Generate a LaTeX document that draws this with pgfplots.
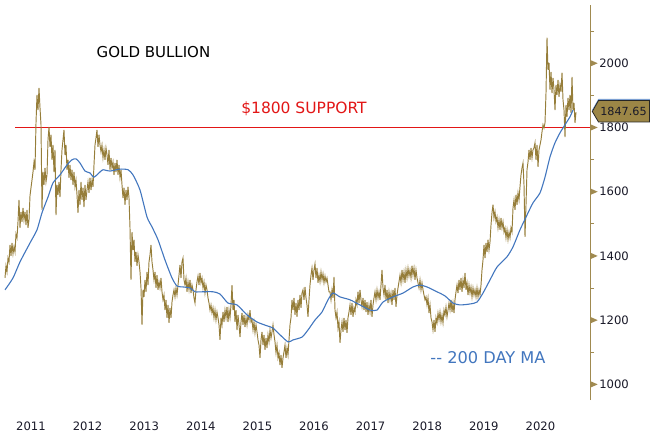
\documentclass[border=0pt]{standalone}
\usepackage{pgfplots}
\pgfplotsset{compat=1.18}
\usepackage{fontspec}
\setmainfont{DejaVu Sans}
\definecolor{gold}{RGB}{150,126,58}
\definecolor{axgold}{RGB}{160,138,80}
\definecolor{mablue}{RGB}{66,118,190}
\definecolor{supred}{RGB}{226,22,22}
\definecolor{ticktext}{RGB}{25,25,40}
\definecolor{boxfill}{RGB}{156,134,70}
\begin{document}
\begin{tikzpicture}[x=1pt,y=1pt]
\useasboundingbox (0,0) rectangle (650,439);
\begin{axis}[
  at={(0pt,39pt)}, anchor=south west,
  width=590pt, height=395pt, scale only axis,
  xmin=0, xmax=590, ymin=951, ymax=2181,
  axis y line*=right, axis x line*=bottom,
  x axis line style={draw=none},
  y axis line style={axgold, line width=1pt},
  ytick pos=right, yticklabel pos=right, xtick pos=bottom,
  tick align=outside,
  major tick length=0pt, minor tick length=4pt,
  minor y tick style={axgold, line width=0.8pt},
  major x tick style={draw=none},
  ytick={1000,1200,1400,1600,1800,2000},
  minor ytick={1100,1300,1500,1700,1900,2100},
  /pgf/number format/1000 sep={},
  /pgf/number format/assume math mode=true,
  yticklabel={\tikz[baseline=0pt]\fill[axgold] (0,0.8pt)--(0,7.4pt)--(7.5pt,4.1pt)--cycle;\hspace{1.6pt}\pgfmathprintnumber{\tick}},
  yticklabel style={font=\fontsize{11.6}{13}\selectfont, text=ticktext, inner sep=0pt, anchor=west},
  xtick={31,87.6,144.2,200.8,257.4,314,370.6,427.2,483.8,540.4},
  xticklabels={2011,2012,2013,2014,2015,2016,2017,2018,2019,2020},
  xticklabel style={font=\fontsize{11.6}{13}\selectfont, text=ticktext, anchor=base, yshift=-30pt},
  clip=true,
]
% $1800 support line
\addplot[supred, line width=0.9pt] coordinates {(15,1800) (590,1800)};
% gold price
\addplot[gold, line width=0.95pt] coordinates {
(5,1331)(6,1369)(7,1350)(8,1393)(9,1381)(10,1434)(11,1400)(12,1440)(13,1406)(14,1428)(15,1412)(16,1468)(17,1456)(18,1506)(19,1574)(20,1487)
(21,1537)(22,1506)(23,1549)(24,1512)(25,1537)(26,1496)(27,1543)(28,1487)(29,1512)(30,1587)(31,1612)(32,1636)(33,1661)(34,1692)(35,1668)
(36,1814)(37,1901)(38,1854)(39,1923)(40,1861)(41,1808)(42,1543)(43,1661)(44,1621)(45,1674)(46,1630)(47,1652)(48,1761)(49,1801)(50,1739)
(51,1777)(52,1699)(53,1745)(54,1661)(55,1730)(56,1527)(57,1621)(58,1590)(59,1630)(60,1583)(61,1668)(62,1730)(63,1761)(64,1792)(65,1714)
(66,1745)(67,1668)(68,1699)(69,1643)(70,1683)(71,1636)(72,1668)(73,1621)(74,1661)(75,1615)(76,1636)(77,1590)(78,1534)(79,1605)(80,1559)
(81,1630)(82,1574)(83,1612)(84,1552)(85,1621)(86,1574)(87,1605)(88,1630)(89,1596)(90,1643)(91,1605)(92,1636)(93,1615)(94,1683)(95,1745)
(96,1767)(97,1792)(98,1739)(99,1777)(100,1745)(101,1724)(102,1745)(103,1705)(104,1730)(105,1699)(106,1736)(107,1714)(108,1683)(109,1730)(110,1668)
(111,1705)(112,1674)(113,1692)(114,1652)(115,1689)(116,1661)(117,1699)(118,1652)(119,1683)(120,1643)(121,1668)(122,1621)(123,1580)(124,1612)(125,1559)
(126,1605)(127,1574)(128,1615)(129,1580)(130,1487)(131,1325)(132,1474)(133,1418)(134,1450)(135,1381)(136,1412)(137,1369)(138,1403)(139,1381)(140,1350)
(141,1300)(142,1185)(143,1294)(144,1272)(145,1325)(146,1288)(147,1350)(148,1309)(149,1381)(150,1403)(151,1434)(152,1381)(153,1356)(154,1325)(155,1350)
(156,1300)(157,1340)(158,1294)(159,1319)(160,1300)(161,1331)(162,1288)(163,1263)(164,1278)(165,1231)(166,1263)(167,1207)(168,1247)(169,1191)(170,1238)
(171,1207)(172,1256)(173,1278)(174,1294)(175,1272)(176,1300)(177,1278)(178,1309)(179,1340)(180,1372)(181,1331)(182,1381)(183,1393)(184,1325)(185,1309)
(186,1331)(187,1288)(188,1319)(189,1294)(190,1325)(191,1284)(192,1309)(193,1294)(194,1269)(195,1253)(196,1294)(197,1319)(198,1337)(199,1309)(200,1347)
(201,1316)(202,1331)(203,1300)(204,1319)(205,1284)(206,1309)(207,1294)(208,1269)(209,1253)(210,1231)(211,1247)(212,1222)(213,1238)(214,1207)(215,1231)
(216,1200)(217,1225)(218,1207)(219,1185)(220,1138)(221,1207)(222,1185)(223,1225)(224,1194)(225,1231)(226,1207)(227,1241)(228,1194)(229,1231)(230,1207)
(231,1247)(232,1309)(233,1231)(234,1263)(235,1194)(236,1231)(237,1169)(238,1216)(239,1185)(240,1147)(241,1194)(242,1222)(243,1185)(244,1216)(245,1178)
(246,1207)(247,1185)(248,1216)(249,1200)(250,1231)(251,1194)(252,1200)(253,1169)(254,1194)(255,1160)(256,1185)(257,1163)(258,1138)(259,1122)(260,1082)
(261,1138)(262,1163)(263,1122)(264,1154)(265,1107)(266,1144)(267,1113)(268,1154)(269,1132)(270,1169)(271,1144)(272,1163)(273,1185)(274,1154)(275,1132)
(276,1098)(277,1122)(278,1082)(279,1098)(280,1060)(281,1091)(282,1051)(283,1082)(284,1101)(285,1122)(286,1082)(287,1113)(288,1091)(289,1138)(290,1185)
(291,1207)(292,1263)(293,1231)(294,1269)(295,1216)(296,1253)(297,1210)(298,1263)(299,1231)(300,1278)(301,1238)(302,1284)(303,1294)(304,1263)(305,1303)
(306,1269)(307,1247)(308,1210)(309,1263)(310,1309)(311,1340)(312,1362)(313,1325)(314,1356)(315,1375)(316,1331)(317,1362)(318,1316)(319,1340)(320,1319)
(321,1350)(322,1325)(323,1344)(324,1316)(325,1337)(326,1319)(327,1331)(328,1309)(329,1288)(330,1288)(331,1263)(332,1294)(333,1269)(334,1334)(335,1231)
(336,1207)(337,1225)(338,1175)(339,1194)(340,1129)(341,1169)(342,1194)(343,1163)(344,1207)(345,1169)(346,1200)(347,1160)(348,1207)(349,1225)(350,1247)
(351,1216)(352,1253)(353,1210)(354,1238)(355,1225)(356,1263)(357,1247)(358,1288)(359,1253)(360,1294)(361,1263)(362,1241)(363,1269)(364,1231)(365,1263)
(366,1225)(367,1256)(368,1216)(369,1247)(370,1225)(371,1263)(372,1210)(373,1247)(374,1269)(375,1288)(376,1263)(377,1294)(378,1269)(379,1288)(380,1263)
(381,1309)(382,1356)(383,1300)(384,1278)(385,1309)(386,1263)(387,1294)(388,1253)(389,1288)(390,1263)(391,1284)(392,1247)(393,1294)(394,1263)(395,1300)
(396,1241)(397,1278)(398,1300)(399,1319)(400,1340)(401,1316)(402,1356)(403,1325)(404,1350)(405,1316)(406,1356)(407,1331)(408,1362)(409,1337)(410,1356)
(411,1331)(412,1369)(413,1340)(414,1362)(415,1325)(416,1356)(417,1331)(418,1316)(419,1300)(420,1325)(421,1294)(422,1316)(423,1294)(424,1278)(425,1263)
(426,1272)(427,1247)(428,1269)(429,1222)(430,1247)(431,1207)(432,1194)(433,1169)(434,1200)(435,1163)(436,1207)(437,1191)(438,1222)(439,1200)(440,1225)
(441,1194)(442,1216)(443,1191)(444,1231)(445,1216)(446,1241)(447,1210)(448,1231)(449,1253)(450,1231)(451,1263)(452,1225)(453,1253)(454,1222)(455,1263)
(456,1288)(457,1309)(458,1284)(459,1325)(460,1294)(461,1331)(462,1288)(463,1325)(464,1300)(465,1347)(466,1294)(467,1316)(468,1278)(469,1309)(470,1284)
(471,1303)(472,1272)(473,1300)(474,1278)(475,1294)(476,1272)(477,1300)(478,1272)(479,1294)(480,1278)(481,1309)(482,1356)(483,1387)(484,1434)(485,1393)
(486,1440)(487,1412)(488,1450)(489,1418)(490,1443)(491,1496)(492,1534)(493,1559)(494,1518)(495,1537)(496,1506)(497,1521)(498,1487)(499,1512)(500,1481)
(501,1518)(502,1487)(503,1506)(504,1474)(505,1487)(506,1456)(507,1481)(508,1450)(509,1474)(510,1456)(511,1487)(512,1474)(513,1549)(514,1574)(515,1543)
(516,1590)(517,1559)(518,1596)(519,1574)(520,1615)(521,1652)(522,1674)(523,1689)(524,1621)(525,1459)(526,1559)(527,1668)(528,1692)(529,1730)(530,1699)
(531,1736)(532,1705)(533,1730)(534,1736)(535,1752)(536,1699)(537,1745)(538,1677)(539,1730)(540,1745)(541,1761)(542,1786)(543,1808)(544,1798)(545,1814)
(546,1907)(547,2079)(548,1979)(549,2001)(550,1917)(551,1973)(552,1907)(553,1954)(554,1917)(555,1854)(556,1932)(557,1901)(558,1948)(559,1895)(560,1932)
(561,1911)(562,1970)(563,1886)(564,1854)(565,1770)(566,1870)(567,1833)(568,1892)(569,1854)(570,1901)(571,1845)(572,1957)(573,1854)(574,1876)(575,1814)
(576,1847.65)
};
% 200-day moving average
\addplot[mablue, line width=1.1pt, smooth, tension=0.4] coordinates {
(5,1294)(13,1331)(20,1381)(30,1440)(37,1481)(42,1534)(48,1583)(53,1627)(60,1652)(67,1683)(72,1699)(76,1702)(80,1689)(85,1664)(90,1658)
(94,1645)(100,1661)(103,1668)(110,1664)(120,1670)(128,1668)(133,1652)(140,1605)(147,1521)(152,1490)(158,1450)(165,1387)(172,1331)(177,1306)
(183,1303)(190,1300)(195,1288)(203,1288)(213,1288)(220,1281)(228,1253)(237,1247)(247,1216)(257,1194)(267,1182)(273,1175)(280,1154)(288,1132)
(293,1138)(302,1147)(308,1169)(315,1200)(322,1225)(328,1263)(333,1284)(340,1272)(350,1263)(360,1247)(370,1231)(377,1231)(383,1256)(393,1272)
(403,1284)(413,1303)(420,1309)(427,1303)(437,1288)(445,1275)(453,1253)(460,1247)(470,1250)(477,1256)(483,1284)(490,1325)(497,1365)(507,1397)
(513,1428)(520,1481)(527,1527)(533,1565)(540,1596)(545,1645)(550,1708)(555,1752)(560,1783)(565,1808)(570,1833)(573,1854)
};
\end{axis}
% annotations
\node[anchor=base, font=\fontsize{15}{15}\selectfont, text=black, inner sep=0pt] at (153.5,381) {GOLD BULLION};
\node[anchor=base, font=\fontsize{15.5}{15.5}\selectfont, text=supred, inner sep=0pt] at (304,325) {\$1800 SUPPORT};
\node[anchor=base, font=\fontsize{16.2}{16.2}\selectfont, text=mablue, inner sep=0pt] at (488,75) {-{}- 200 DAY MA};
% last value box
\draw[mablue!70, line width=0.8pt] (592.3,328.6) -- (598.5,339.6) -- (651,339.6);
\filldraw[fill=boxfill, draw=black!85, line width=0.8pt] (592.3,327.5) -- (598.5,338.5) -- (649.5,338.5) -- (649.5,317) -- (598.5,317) -- cycle;
\node[anchor=base, font=\fontsize{11.2}{12}\selectfont, text=ticktext, inner sep=0pt] at (623.5,323.3) {1847.65};
\end{tikzpicture}
\end{document}
